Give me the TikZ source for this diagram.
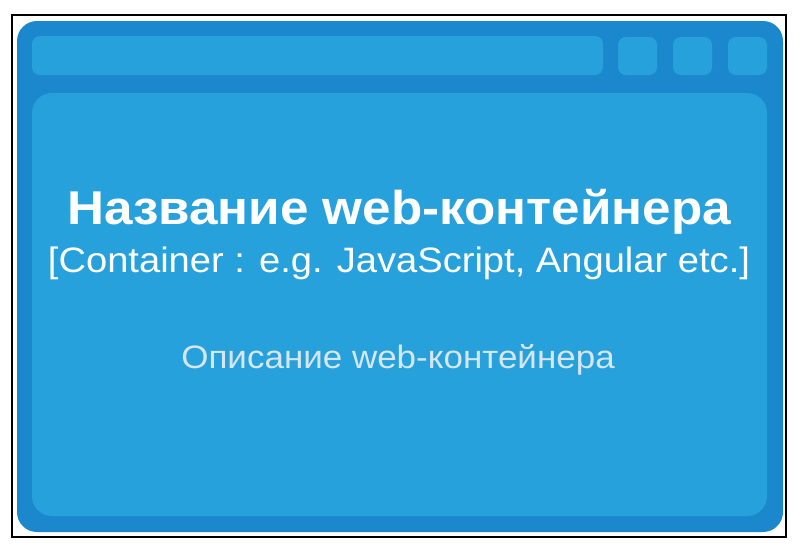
\documentclass[tikz,border=0pt]{standalone}
\usepackage{fontspec}
\setmainfont{Liberation Sans}
\definecolor{frameblue}{RGB}{27,136,206}
\definecolor{panelblue}{RGB}{39,161,220}
\definecolor{descgray}{RGB}{214,230,242}

\begin{document}
\begin{tikzpicture}[
    x=1pt, y=-1pt,
    panel/.style={fill=panelblue, rounded corners=8pt},
    label/.style={anchor=base, inner sep=0pt, transform shape, xscale=1.08},
    title/.style={label, text=white, font=\bfseries\fontsize{47.4}{52}\selectfont},
    tech/.style={label, text=white, font=\fontsize{35.3}{40}\selectfont},
    descr/.style={label, text=descgray, font=\fontsize{32.4}{36}\selectfont}
    ]

    \useasboundingbox (0,0) rectangle (800,546);
    \draw[line width=2.5pt] (12,15) rectangle (786,537);
    \fill[frameblue, rounded corners=20pt] (17,21) rectangle (783,532);

    \fill[panel] (32,36) rectangle (603,75);
    \foreach \bx in {618,673,728}
      \fill[panel] (\bx,37) rectangle ++(39,38);
    \fill[panel, rounded corners=20pt] (32,93) rectangle (767,516);

    \node[title] (name) at (399,224) {Название web-контейнера};
    \node[tech] (kind) at (399,272) {[Container : e.g. JavaScript, Angular etc.]};
    \node[descr] (desc) at (398,368) {Описание web-контейнера};

  \end{tikzpicture}
\end{document}
